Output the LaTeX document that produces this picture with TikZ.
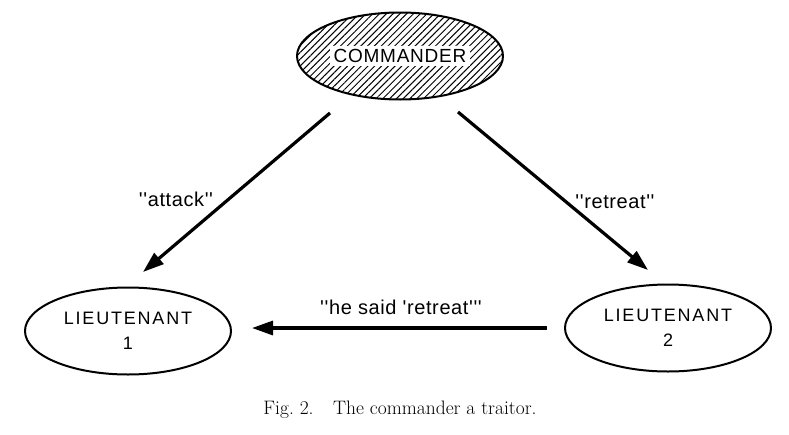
\documentclass[tikz,border=0pt]{standalone}
\usepackage{fontspec}
\setmainfont{Latin Modern Roman}
\newfontfamily\msgfont[LetterSpace=3]{Liberation Sans}
\newfontfamily\cmdfont[LetterSpace=4]{Liberation Sans}
\newfontfamily\spacedfont[LetterSpace=10]{Liberation Sans}
\usetikzlibrary{shapes.geometric,patterns.meta,arrows.meta,calc}
\tikzset{
  person/.style={ellipse,draw=black,line width=2pt,minimum width=206pt,minimum height=87pt,inner sep=0pt,align=center,font=\spacedfont\fontsize{18}{25}\selectfont},
  traitor/.style={ellipse,draw=black,line width=2pt,minimum width=206pt,minimum height=87pt,inner sep=0pt,pattern={Lines[angle=45,distance=4.8pt,line width=1pt]}},
  whitebox/.style={fill=white,inner sep=3.5pt,font=\cmdfont\fontsize{19}{25}\selectfont},
  msg/.style={font=\msgfont\fontsize{20}{24}\selectfont},
  arr/.style={line width=3.2pt,-{Triangle[length=21pt,width=14pt]}},
  caption/.style={font=\fontsize{19.5}{22}\selectfont}
}
\begin{document}
\begin{tikzpicture}[x=1pt,y=-1pt]
\useasboundingbox (0,0) rectangle (789,434);
\node[traitor] (cmd) at (400,56) {};
\node[whitebox] (cmdtext) at (cmd.center) {COMMANDER};
\node[person] (l1) at (128,331) {LIEUTENANT\\1};
\node[person] (l2) at (668,328) {LIEUTENANT\\2};
\draw[arr] ($(cmd)+(-70,57)$) -- ($(l1)+(15,-59)$);
\draw[arr] ($(cmd)+(58,56)$) -- ($(l2)+(-20,-58)$);
\draw[arr] ($(l2)+(-121,0)$) -- ($(l1)+(124,-3)$);
\node[msg] (m1) at (176,199) {''attack''};
\node[msg] (m2) at (615,202) {''retreat''};
\node[msg] (m3) at (401,307) {''he said 'retreat'{}''};
\node[caption] (cap) at (400,410) {Fig.~2.\quad The commander a traitor.};
\end{tikzpicture}
\end{document}
